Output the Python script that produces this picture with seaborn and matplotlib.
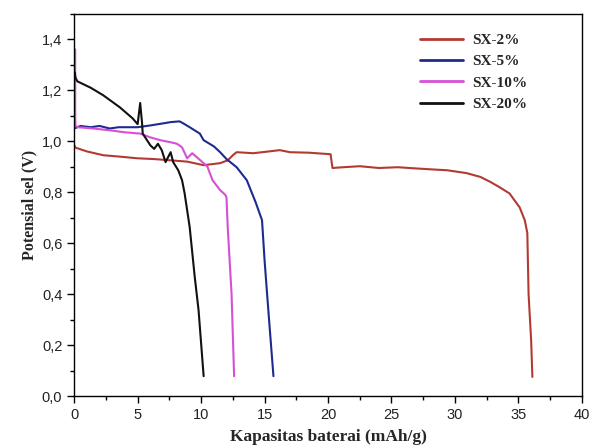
import seaborn as sns
import pandas as pd
import matplotlib.pyplot as plt
from matplotlib.ticker import MultipleLocator, FuncFormatter

# data
x_sx2 = [0, 0.1, 1.0, 2.3, 3.5, 5.0, 6.3, 7.6, 8.9, 10.2, 11.5, 12.1, 12.5, 12.8, 14.1, 15.0,
         16.2, 17.0, 18.5, 20.2, 20.35, 21.2, 22.5, 24.0, 25.5, 26.7, 28.0, 29.4, 30.9, 32.0,
         32.8, 33.5, 34.3, 35.1, 35.5, 35.7, 35.8, 36.0, 36.1]
y_sx2 = [0.985, 0.975, 0.96, 0.945, 0.94, 0.933, 0.93, 0.925, 0.92, 0.906, 0.914, 0.925, 0.945,
         0.957, 0.953, 0.958, 0.965, 0.957, 0.955, 0.949, 0.895, 0.898, 0.902, 0.895, 0.898,
         0.894, 0.89, 0.886, 0.875, 0.86, 0.84, 0.82, 0.795, 0.74, 0.69, 0.64, 0.40, 0.22, 0.075]

x_sx5 = [0, 0.5, 1.3, 2.0, 2.8, 3.5, 5.0, 6.0, 7.0, 7.6, 8.3, 8.6, 9.1, 9.9, 10.2, 11.0, 11.5,
         12.0, 12.8, 13.6, 14.3, 14.8, 15.0, 15.2, 15.4, 15.7]
y_sx5 = [1.05, 1.06, 1.055, 1.06, 1.05, 1.055, 1.055, 1.062, 1.07, 1.075, 1.078, 1.07, 1.055,
         1.03, 1.004, 0.98, 0.957, 0.93, 0.898, 0.847, 0.76, 0.69, 0.533, 0.40, 0.27, 0.078]

x_sx10 = [0.08, 0.08, 0.1, 0.3, 1.5, 2.8, 4.0, 5.2, 6.0, 6.8, 7.6, 8.1, 8.5, 8.9, 9.3, 10.2, 10.5,
          10.9, 11.5, 11.9, 12.0, 12.1, 12.4, 12.6]
y_sx10 = [1.36, 1.1, 1.06, 1.055, 1.05, 1.043, 1.035, 1.03, 1.015, 1.004, 0.996, 0.99, 0.976,
          0.933, 0.953, 0.914, 0.9, 0.847, 0.808, 0.79, 0.78, 0.66, 0.40, 0.078]

x_sx20 = [0.05, 0.1, 0.25, 1.3, 2.3, 3.6, 4.6, 5.0, 5.2, 5.35, 5.4, 6.0, 6.3, 6.6, 6.9, 7.2, 7.6,
          7.8, 8.2, 8.5, 8.7, 9.1, 9.5, 9.8, 10.2]
y_sx20 = [1.27, 1.25, 1.235, 1.21, 1.18, 1.133, 1.09, 1.067, 1.15, 1.07, 1.03, 0.984, 0.97, 0.99,
          0.965, 0.918, 0.957, 0.918, 0.886, 0.847, 0.796, 0.663, 0.467, 0.337, 0.078]

labels = ['SX-2%', 'SX-5%', 'SX-10%', 'SX-20%']
warna = ['#b23a33', '#1e2a8f', '#d64fd6', '#111111']

frames = []
for lab, xs, ys in zip(labels, [x_sx2, x_sx5, x_sx10, x_sx20], [y_sx2, y_sx5, y_sx10, y_sx20]):
    frames.append(pd.DataFrame({'kapasitas': xs, 'potensial': ys, 'sampel': lab}))
df = pd.concat(frames, ignore_index=True)

sns.set_style('ticks')
plt.rcParams['font.family'] = ['Liberation Sans', 'DejaVu Sans']

fig = plt.figure(figsize=(6.03, 4.46), dpi=100)
ax = fig.add_axes([0.123, 0.112, 0.842, 0.857])

sns.lineplot(data=df, x='kapasitas', y='potensial', hue='sampel', palette=warna,
             estimator=None, sort=False, linewidth=1.5, ax=ax)

ax.set_xlim(0, 40)
ax.set_ylim(0, 1.5)
ax.xaxis.set_major_locator(MultipleLocator(5))
ax.xaxis.set_minor_locator(MultipleLocator(2.5))
ax.yaxis.set_major_locator(MultipleLocator(0.2))
ax.yaxis.set_minor_locator(MultipleLocator(0.1))
ax.yaxis.set_major_formatter(FuncFormatter(lambda v, p: f'{v:.1f}'.replace('.', ',')))
ax.tick_params(which='major', length=5, width=1, labelsize=10.5, color='black', labelcolor='#222222')
ax.tick_params(which='minor', length=3, width=1, color='black')
for s in ax.spines.values():
    s.set_linewidth(1.0)
    s.set_color('black')

ax.set_xlabel('Kapasitas baterai (mAh/g)', fontsize=12.5, fontweight='bold',
              family=['Liberation Serif'], labelpad=5)
ax.set_ylabel('Potensial sel (V)', fontsize=11.5, fontweight='bold',
              family=['Liberation Serif'], labelpad=3)

leg = ax.legend(loc='upper left', bbox_to_anchor=(0.655, 0.985), frameon=False,
                handlelength=2.8, handletextpad=0.6, labelspacing=0.5,
                prop={'family': 'Liberation Serif', 'weight': 'bold', 'size': 11})
for h in leg.get_lines():
    h.set_linewidth(2)

plt.savefig('out.png', dpi=100)
